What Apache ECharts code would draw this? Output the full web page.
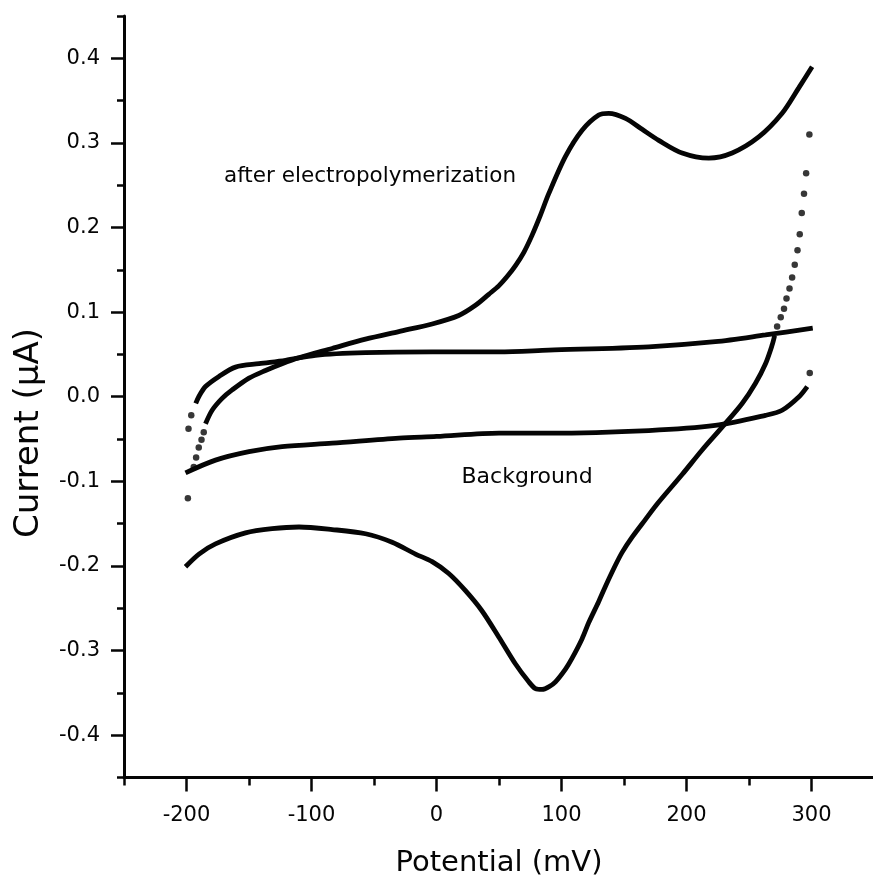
<!DOCTYPE html>
<html><head><meta charset="utf-8">
<script src="https://cdn.jsdelivr.net/npm/echarts@6/dist/echarts.min.js"></script>
<style>html,body{margin:0;padding:0;background:#fff}#c{width:873px;height:879px}</style>
</head><body><div id="c"></div>
<script>
// ---- tick values ----
const xMajorTicks = [-200, -100, 0, 100, 200, 300];
const xMinorTicks = [-250, -150, -50, 50, 150, 250, 350];
const yMajorTicks = [-0.4, -0.3, -0.2, -0.1, 0, 0.1, 0.2, 0.3, 0.4];
const yMinorTicks = [-0.45, -0.35, -0.25, -0.15, -0.05, 0.05, 0.15, 0.25, 0.35, 0.45];

// ---- after electropolymerization: anodic sweep (continuous part) ----
const afterAnodicX = [-184.8, -179.5, -171.5, -163.5, -150, -136.8, -123.5, -110, -83.5, -56.8, -30.2, -3.5, 17.8, 31.2, 41.8, 49.8, 56.5, 63.2, 70.0, 76.5, 83.0, 89.8, 103.2, 116.5, 129.8, 137.8, 151.2, 164.5, 177.8, 196.5, 217.8, 236.5, 257.8, 276.5, 289.8, 300.5];
const afterAnodicY = [-0.032, -0.016, -0.002, 0.008, 0.022, 0.031, 0.039, 0.046, 0.057, 0.068, 0.077, 0.086, 0.096, 0.108, 0.121, 0.131, 0.142, 0.155, 0.171, 0.191, 0.214, 0.240, 0.284, 0.315, 0.333, 0.335, 0.329, 0.316, 0.303, 0.288, 0.282, 0.288, 0.307, 0.335, 0.365, 0.390];
// sparse points at the start of the anodic sweep
const afterStartX = [-198.9, -194.2, -192.3, -190.2, -188.0, -186.2];
const afterStartY = [-0.120, -0.083, -0.072, -0.060, -0.051, -0.042];

// ---- after electropolymerization: cathodic sweep ----
const afterReverseX = [298.3, 295.7, 294.0, 292.2, 290.6, 288.8, 286.6, 284.5, 282.4, 280.0, 278.0, 275.4, 272.5];
const afterReverseY = [0.310, 0.264, 0.240, 0.217, 0.192, 0.173, 0.156, 0.141, 0.128, 0.116, 0.104, 0.094, 0.083];
const afterCathodicX = [270.5, 268.5, 263.2, 255.2, 244.5, 228.5, 212.5, 196.5, 177.0, 167.2, 156.5, 148.5, 143.2, 135.2, 129.8, 121.8, 116.5, 108.5, 103.2, 95.2, 89.8, 84.5, 79.2, 73.8, 63.2, 49.8, 36.3, 23.0, 9.8, -3.5, -16.8, -35.5, -56.8, -83.5, -110, -131.5, -152.8, -176.8, -190, -200.8];
const afterCathodicY = [0.072, 0.061, 0.039, 0.016, -0.008, -0.036, -0.063, -0.092, -0.126, -0.145, -0.166, -0.184, -0.199, -0.224, -0.242, -0.267, -0.286, -0.309, -0.322, -0.337, -0.343, -0.346, -0.345, -0.337, -0.316, -0.284, -0.253, -0.229, -0.209, -0.195, -0.186, -0.172, -0.162, -0.157, -0.154, -0.156, -0.161, -0.174, -0.186, -0.201];

// ---- background ----
const bgUpperX = [-192.6, -190.2, -184.8, -174, -160.8, -142, -120.8, -96.8, -56.8, -3.5, 49.8, 89.8, 169.8, 223, 263.2, 301];
const bgUpperY = [-0.008, 0.000, 0.012, 0.024, 0.035, 0.039, 0.043, 0.049, 0.052, 0.053, 0.053, 0.055, 0.059, 0.065, 0.073, 0.081];
const bgUpperDotsX = [-198.4, -196.2];
const bgUpperDotsY = [-0.038, -0.022];
const bgLowerX = [-200.8, -176.8, -150, -123.5, -83.5, -30, 0, 50, 89.8, 169.8, 223, 263.2, 276.5, 290, 296.6];
const bgLowerY = [-0.090, -0.075, -0.065, -0.059, -0.055, -0.049, -0.047, -0.043, -0.043, -0.040, -0.034, -0.022, -0.016, 0.000, 0.012];
const bgLowerDotsX = [298.6];
const bgLowerDotsY = [0.028];

const zip = (xs, ys) => xs.map((x, i) => [x, ys[i]]);
const INK = '#050505';
const FONT = 'DejaVu Sans';

function lineSeries(xs, ys) {
  return { type: 'line', data: zip(xs, ys), symbol: 'none', smooth: 0.3,
    lineStyle: { color: INK, width: 4.8 }, z: 3 };
}
function dotSeries(xs, ys) {
  return { type: 'scatter', data: zip(xs, ys), symbol: 'circle', symbolSize: 6.5,
    itemStyle: { color: INK }, z: 3 };
}

const chart = echarts.init(document.getElementById('c'), null, { renderer: 'canvas' });
chart.setOption({
  animation: false,
  backgroundColor: '#ffffff',
  grid: { left: 124, right: -1, top: 16, bottom: 101.6, containLabel: false, outerBoundsMode: 'none' },
  xAxis: [
    { type: 'value', min: -250, max: 350, position: 'bottom',
      axisLine: { show: true, onZero: false, lineStyle: { color: INK, width: 3 } },
      axisTick: { show: true, customValues: xMajorTicks, length: 14, lineStyle: { color: INK, width: 2.5 } },
      axisLabel: { show: true, customValues: xMajorTicks, margin: 28, color: INK, fontSize: 21, fontFamily: FONT,
        formatter: v => String(Math.round(v)) },
      splitLine: { show: false },
      name: 'Potential (mV)', nameLocation: 'middle', nameGap: 72,
      nameTextStyle: { color: INK, fontSize: 29, fontFamily: FONT } },
    { type: 'value', min: -250, max: 350, position: 'bottom', offset: 0,
      axisLine: { show: false, onZero: false },
      axisTick: { show: true, customValues: xMinorTicks, length: 8, lineStyle: { color: INK, width: 2.5 } },
      axisLabel: { show: false }, splitLine: { show: false } }
  ],
  yAxis: [
    { type: 'value', min: -0.45, max: 0.45, position: 'left',
      axisLine: { show: true, onZero: false, lineStyle: { color: INK, width: 3 } },
      axisTick: { show: true, customValues: yMajorTicks, length: 13, lineStyle: { color: INK, width: 2.5 } },
      axisLabel: { show: true, customValues: yMajorTicks, margin: 24, color: INK, fontSize: 21, fontFamily: FONT,
        padding: [9, 0, 0, 0], formatter: v => v.toFixed(1) },
      splitLine: { show: false } },
    { type: 'value', min: -0.45, max: 0.45, position: 'left', offset: 0,
      axisLine: { show: false, onZero: false },
      axisTick: { show: true, customValues: yMinorTicks, length: 7, lineStyle: { color: INK, width: 2.5 } },
      axisLabel: { show: false }, splitLine: { show: false } }
  ],
  graphic: [
    { type: 'text', x: 29, y: 433, rotation: Math.PI / 2,
      style: { text: 'Current (μA)', fill: INK, font: '34px "DejaVu Sans"', align: 'center', verticalAlign: 'middle' } },
    { type: 'text', x: 224, y: 176.5,
      style: { text: 'after electropolymerization', fill: INK, font: '21.5px "DejaVu Sans"', align: 'left', verticalAlign: 'middle' } },
    { type: 'text', x: 461.5, y: 477,
      style: { text: 'Background', fill: INK, font: '22px "DejaVu Sans"', align: 'left', verticalAlign: 'middle' } }
  ],
  series: [
    dotSeries(afterStartX, afterStartY),
    lineSeries(afterAnodicX, afterAnodicY),
    dotSeries(afterReverseX, afterReverseY),
    lineSeries(afterCathodicX, afterCathodicY),
    dotSeries(bgUpperDotsX, bgUpperDotsY),
    lineSeries(bgUpperX, bgUpperY),
    lineSeries(bgLowerX, bgLowerY),
    dotSeries(bgLowerDotsX, bgLowerDotsY)
  ]
});
</script>
</body></html>
